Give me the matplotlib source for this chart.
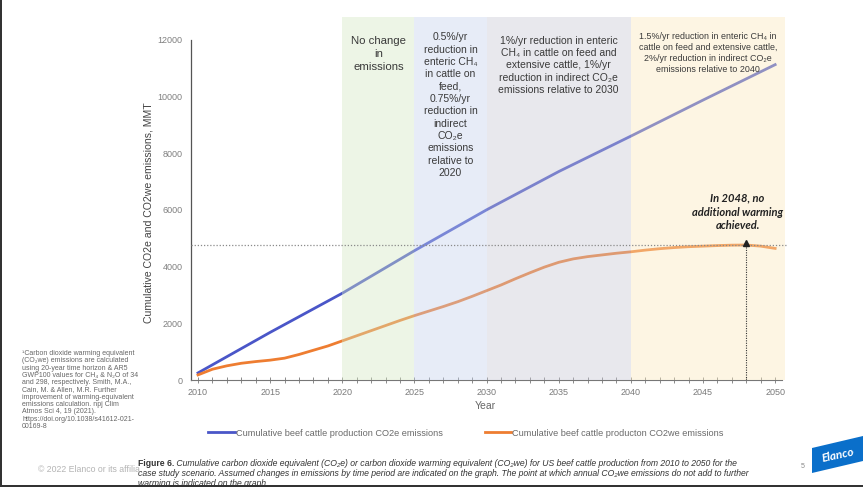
import matplotlib
matplotlib.use("Agg")
import matplotlib.pyplot as plt
from matplotlib.patches import Polygon, Rectangle

plt.rcParams["font.family"] = ["Liberation Sans", "DejaVu Sans"]

# ---- data -------------------------------------------------------------
co2e_years = [2010, 2015, 2020, 2025, 2030, 2035, 2040, 2045, 2050]
co2e_cum = [250, 1680, 3060, 4560, 6000, 7350, 8600, 9870, 11120]

co2we_years = list(range(2010, 2051))
co2we_cum = [180, 380, 500, 590, 650, 700, 770, 900, 1050, 1200,
             1380, 1560, 1740, 1920, 2100, 2270, 2430, 2590, 2760, 2950,
             3150, 3350, 3570, 3780, 3980, 4150, 4270, 4350, 4410, 4470,
             4520, 4580, 4630, 4670, 4700, 4720, 4740, 4755, 4760, 4720,
             4640]

period_edges = [2020, 2025, 2030, 2040, 2050.7]
period_colors = ["#d4e8c1", "#c3d1ed", "#c6c6d4", "#fae8bb"]
period_labels = [
    "No change\nin\nemissions",
    "0.5%/yr\nreduction in\nenteric CH\u2084\nin cattle on\nfeed,\n0.75%/yr\n"
    "reduction in\nindirect\nCO\u2082e\nemissions\nrelative to\n2020",
    "1%/yr reduction in enteric\nCH\u2084 in cattle on feed and\nextensive cattle, 1%/yr\n"
    "reduction in indirect CO\u2082e\nemissions relative to 2030",
    "1.5%/yr reduction in enteric CH\u2084 in\ncattle on feed and extensive cattle,\n"
    "2%/yr reduction in indirect CO\u2082e\nemissions relative to 2040",
]
period_fontsizes = [8.2, 7.5, 7.5, 6.4]
period_spacing = [1.35, 1.29, 1.26, 1.25]
period_text_top = [12120, 12260, 12120, 12260]

no_warming_year = 2048
series_labels = ["Cumulative beef cattle production CO2e emissions",
                 "Cumulative beef cattle producton CO2we emissions"]

# ---- figure -----------------------------------------------------------
W, H = 863, 487
fig = plt.figure(figsize=(W / 100, H / 100), dpi=100)


def fx(px):
    return px / W


def fy(py):
    return 1 - py / H


ax = fig.add_axes([fx(190.8), fy(380), fx(786.7) - fx(190.8), (380 - 17) / H])
ax.set_xlim(2009.5, 2050.8)
ax.set_ylim(0, 12800)

l1, = ax.plot(co2e_years, co2e_cum, color="#4a56c8", lw=2.0, zorder=2)
l2, = ax.plot(co2we_years, co2we_cum, color="#ee7d31", lw=2.0, zorder=2)

# scenario periods, washed over the curves
for i, col in enumerate(period_colors):
    x0, x1 = period_edges[i], period_edges[i + 1]
    ax.axvspan(x0, x1, color=col, alpha=0.4, lw=0, zorder=3)
    ax.text((x0 + x1) / 2, period_text_top[i], period_labels[i], ha="center",
            va="top", fontsize=period_fontsizes[i], color="#3a3a3a",
            linespacing=period_spacing[i], zorder=6)

peak = max(co2we_cum)
ax.axhline(peak, color="#8a8a8a", ls=(0, (1, 1.5)), lw=0.9, zorder=4)
ax.vlines(no_warming_year, 0, peak, colors="#333333",
          linestyles=(0, (1, 1.2)), lw=0.8, zorder=4)
ax.plot(no_warming_year, peak + 60, marker="^", ms=4, color="#222222",
        zorder=5)
ax.text(2047.4, 6600, "In 2048, no\nadditional warming\nachieved.",
        ha="center", va="top", fontsize=8, fontweight="bold",
        fontstyle="italic", family=["Lato", "DejaVu Sans"],
        color="#222222", linespacing=1.3, zorder=6)

# axes styling
ax.set_xticks(range(2010, 2051, 5))
ax.set_xticks(range(2010, 2051), minor=True)
ax.set_yticks(range(0, 12001, 2000))
ax.tick_params(axis="x", which="both", direction="inout", length=4,
               width=0.6, color="#777777", labelsize=6.5,
               labelcolor="#7a7a7a", pad=4)
ax.tick_params(axis="y", length=0, labelsize=6.5, labelcolor="#808080",
               pad=6)
for s in ("top", "right"):
    ax.spines[s].set_visible(False)
ax.spines["left"].set_color("#555555")
ax.spines["left"].set_linewidth(0.9)
ax.spines["left"].set_bounds(0, 12000)
ax.spines["bottom"].set_color("#777777")
ax.spines["bottom"].set_linewidth(0.8)
ax.spines["bottom"].set_bounds(2009.5, 2050.5)
ax.set_facecolor("none")

ax.set_ylabel("Cumulative CO2e and CO2we emissions, MMT", fontsize=7.6,
              color="#444444")
ax.yaxis.set_label_coords(-0.063, 0.46)
ax.set_xlabel("Year", fontsize=7.5, color="#666666")
ax.xaxis.set_label_coords(0.494, -0.058)

fig.legend(handles=[l1, l2], labels=series_labels, loc="center",
           bbox_to_anchor=(fx(466), fy(433)), ncol=2, frameon=False,
           fontsize=6.6, handlelength=2.9, handletextpad=0.1,
           columnspacing=4.6, labelcolor="#6a6a6a")

# side note
footnote = ("\u00b9Carbon dioxide warming equivalent\n(CO\u2082we) emissions are calculated\n"
            "using 20-year time horizon & AR5\nGWP100 values for CH\u2084 & N\u2082O of 34\n"
            "and 298, respectively. Smith, M.A.,\nCain, M. & Allen, M.R. Further\n"
            "improvement of warming-equivalent\nemissions calculation. npj Clim\n"
            "Atmos Sci 4, 19 (2021).\nhttps://doi.org/10.1038/s41612-021-\n00169-8")
fig.text(fx(22), fy(350), footnote, fontsize=5, color="#666666", va="top",
         ha="left", linespacing=1.06)

fig.text(fx(38), fy(469), "\u00a9 2022 Elanco or its affilia",
         fontsize=6.3, color="#b4b4b4", va="center", ha="left")

# caption block
cap = fig.add_axes([fx(137), 0, fx(752) - fx(137), (487 - 458) / H])
cap.set_xticks([])
cap.set_yticks([])
for s in cap.spines.values():
    s.set_visible(False)
cap.set_facecolor("white")
cap_w, cap_h = 752 - 137, 487 - 458
cap_fs = 6.2
t1 = cap.text(1 / cap_w, (487 - 464) / cap_h, "Figure 6.", fontsize=cap_fs,
              fontweight="bold", color="#333333", va="center", ha="left",
              transform=cap.transAxes, clip_on=True)
cap.annotate(" Cumulative carbon dioxide equivalent (CO\u2082e) or carbon dioxide "
             "warming equivalent (CO\u2082we) for US beef cattle production from "
             "2010 to 2050 for the",
             xy=(1, 0.5), xycoords=t1, va="center", ha="left", fontsize=cap_fs,
             fontstyle="italic", color="#333333", annotation_clip=False,
             clip_on=True)
cap.text(1 / cap_w, (487 - 474) / cap_h,
         "case study scenario. Assumed changes in emissions by time period are "
         "indicated on the graph. The point at which annual CO\u2082we emissions "
         "do not add to further",
         fontsize=cap_fs, fontstyle="italic", color="#333333", va="center",
         ha="left", transform=cap.transAxes, clip_on=True)
cap.text(1 / cap_w, (487 - 484) / cap_h, "warming is indicated on the graph.",
         fontsize=cap_fs, fontstyle="italic", color="#333333", va="center",
         ha="left", transform=cap.transAxes, clip_on=True)

fig.text(fx(803), fy(466), "5", fontsize=5, color="#888888", ha="center",
         va="center")

# logo
fig.add_artist(Polygon([(fx(812), fy(448)), (fx(863), fy(436)),
                        (fx(863), fy(461)), (fx(812), fy(473))],
                       closed=True, transform=fig.transFigure,
                       facecolor="#0a6fca", edgecolor="none"))
fig.text(fx(838), fy(455), "Elanco", color="white", fontsize=8.5,
         fontweight="bold", fontstyle="italic", rotation=12, ha="center",
         va="center", family=["Lato", "DejaVu Sans"])

# slide frame
fig.add_artist(Rectangle((0, 0), 1, 2.5 / H, transform=fig.transFigure,
                         facecolor="#333333", edgecolor="none"))
fig.add_artist(Rectangle((0, 0), 1.5 / W, 1, transform=fig.transFigure,
                         facecolor="#333333", edgecolor="none"))

fig.savefig("out.png", dpi=100, facecolor="white")
